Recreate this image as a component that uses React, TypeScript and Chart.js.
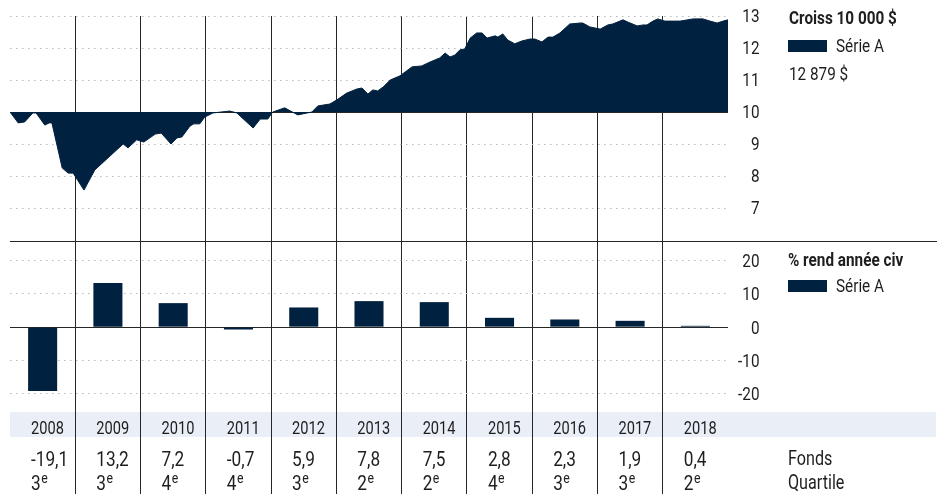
import React, { useEffect, useRef } from 'react';
import { Chart, registerables } from 'chart.js';

Chart.register(...registerables);

const NAVY = '#00213f';
const TEXT = '#1e1e1e';
const FONT = "Roboto, 'Liberation Sans', sans-serif";
const SQUEEZE = 0.85;

// Growth of 10 000 $ (month index since Jan 2008, value in thousands)
const growthMonths = [
  0, 1.5, 2.7, 4.2, 4.8, 6.4, 7.2, 7.7, 9.6, 10.7, 11.6, 13.6, 15.6, 20.8, 21.7, 23.3, 24.6, 26.7,
  27.8, 29.6, 30.7, 31.6, 33.1, 33.8, 34.9, 35.8, 37.3, 40.4, 41.7, 44.7, 46.0, 47.4, 48.3, 50.5,
  52.9, 55.5, 56.6, 58.8, 60.1, 61.9, 63.8, 64.7, 65.8, 66.7, 67.6, 68.6, 69.9, 71.7, 73.9, 75.7,
  77.2, 79.0, 80.0, 80.9, 81.8, 82.7, 83.6, 84.6, 85.8, 86.8, 87.7, 89.2, 89.7, 90.6, 91.5, 92.8,
  94.1, 95.6, 96.5, 97.8, 98.9, 99.8, 101.1, 102.9, 104.8, 105.3, 106.6, 108.5, 109.9, 110.8,
  112.7, 113.6, 115.3, 116.4, 117.1, 118.2, 119.1, 120.4, 123.2, 125.6, 127.4, 128.7, 130.0,
  131.1, 132,
];
const growthValues = [
  10.0, 9.66, 9.69, 9.97, 9.97, 9.59, 9.66, 9.66, 8.25, 8.09, 8.09, 7.56, 8.19, 9.0, 8.88, 9.13,
  9.06, 9.31, 9.34, 9.0, 9.19, 9.22, 9.56, 9.63, 9.63, 9.84, 9.97, 10.03, 9.97, 9.5, 9.78, 9.78,
  10.0, 10.13, 9.91, 10.0, 10.19, 10.25, 10.38, 10.59, 10.72, 10.75, 10.56, 10.69, 10.66, 10.78,
  11.0, 11.13, 11.41, 11.44, 11.56, 11.69, 11.84, 11.72, 11.78, 11.94, 11.97, 12.31, 12.47, 12.47,
  12.31, 12.38, 12.34, 12.44, 12.25, 12.13, 12.22, 12.28, 12.28, 12.19, 12.34, 12.34, 12.47,
  12.75, 12.78, 12.78, 12.66, 12.59, 12.72, 12.75, 12.88, 12.81, 12.69, 12.72, 12.72, 12.84,
  12.91, 12.84, 12.84, 12.91, 12.91, 12.84, 12.78, 12.84, 12.88,
];
const growthTicks = [7, 8, 9, 10, 11, 12, 13];
const growthBase = 10;

const years = ['2008', '2009', '2010', '2011', '2012', '2013', '2014', '2015', '2016', '2017', '2018'];
const annualReturns = [-19.1, 13.2, 7.2, -0.7, 5.9, 7.8, 7.5, 2.8, 2.3, 1.9, 0.4];
const returnTicks = [-20, -10, 0, 10, 20];
const quartiles = [3, 3, 4, 4, 3, 2, 2, 4, 3, 3, 2];

const topTitle = 'Croiss 10 000 $';
const bottomTitle = '% rend année civ';
const seriesName = 'Série A';
const endValueLabel = '12 879 $';
const rowLabels = ['Fonds', 'Quartile'];

const fmt = (v: number) => v.toFixed(1).replace('.', ',');
const TRANSPARENT = 'rgba(0,0,0,0)';
const DOT = '#b8b8b8';
const LINE = '#262626';

function squeezedText(ctx: CanvasRenderingContext2D, text: string, x: number, y: number, sx = SQUEEZE) {
  ctx.save();
  ctx.translate(x, y);
  ctx.scale(sx, 1);
  ctx.fillText(text, 0, 0);
  ctx.restore();
}

const yLabelPlugin = {
  id: 'yLabels',
  afterDraw(chart: any) {
    const ys = chart.scales.y;
    const ctx = chart.ctx as CanvasRenderingContext2D;
    ctx.save();
    ctx.fillStyle = TEXT;
    ctx.font = `18px ${FONT}`;
    ctx.textAlign = 'right';
    ctx.textBaseline = 'alphabetic';
    ys.ticks.forEach((t: any) => {
      squeezedText(ctx, String(t.value), ys.left + 31.5, ys.getPixelForValue(t.value) + 6.4);
    });
    ctx.restore();
  },
};

const tablePlugin = {
  id: 'tablePlugin',
  beforeDraw(chart: any) {
    const { ctx, chartArea } = chart;
    ctx.save();
    ctx.fillStyle = '#e9eef7';
    ctx.fillRect(chartArea.left, chartArea.bottom, chart.width - 10 - chartArea.left, 25);
    ctx.restore();
  },
  afterDraw(chart: any) {
    const { chartArea, scales } = chart;
    const ctx = chart.ctx as CanvasRenderingContext2D;
    const xs = scales.x;
    const half = (xs.getPixelForValue(1) - xs.getPixelForValue(0)) / 2;
    ctx.save();
    ctx.fillStyle = LINE;
    ctx.fillRect(chartArea.left, 1, chart.width - 9 - chartArea.left, 1);
    ctx.fillStyle = TEXT;
    ctx.textBaseline = 'alphabetic';
    ctx.textAlign = 'left';
    years.forEach((y, i) => {
      const left = xs.getPixelForValue(i) - half + 21;
      ctx.font = `19px ${FONT}`;
      squeezedText(ctx, y, left, chartArea.bottom + 21.8, 0.77);
      ctx.font = `21px ${FONT}`;
      squeezedText(ctx, fmt(annualReturns[i]), left, chartArea.bottom + 54, 0.82);
      const q = String(quartiles[i]);
      squeezedText(ctx, q, left, chartArea.bottom + 77.5, 0.82);
      const w = ctx.measureText(q).width * 0.82;
      ctx.font = `15px ${FONT}`;
      squeezedText(ctx, 'e', left + w + 0.5, chartArea.bottom + 70.5, 0.82);
    });
    ctx.restore();
  },
};

function Label(props: { left: number; cy: number; text: string; size?: number; bold?: boolean; sx?: number }) {
  const size = props.size || 18;
  const lh = size + 2;
  const capCenter = (lh - 1.172 * size) / 2 + 0.928 * size - 0.3555 * size;
  return (
    <div
      style={{
        position: 'absolute',
        left: props.left,
        top: Math.round(props.cy - capCenter),
        fontSize: size,
        lineHeight: `${lh}px`,
        fontWeight: props.bold ? 700 : 400,
        whiteSpace: 'nowrap',
        transform: `scaleX(${props.sx || SQUEEZE})`,
        transformOrigin: 'left center',
      }}
    >
      {props.text}
    </div>
  );
}

function Swatch(props: { left: number; top: number }) {
  return (
    <div style={{ position: 'absolute', left: props.left, top: props.top, width: 39, height: 12, background: NAVY }} />
  );
}

export default function App() {
  const topRef = useRef<HTMLCanvasElement>(null);
  const botRef = useRef<HTMLCanvasElement>(null);

  useEffect(() => {
    document.body.style.margin = '0';
    Chart.defaults.font.family = FONT;
    Chart.defaults.font.size = 18;
    Chart.defaults.color = TEXT;

    const top = new Chart(topRef.current as HTMLCanvasElement, {
      type: 'line',
      data: {
        datasets: [
          {
            data: growthMonths.map((m, i) => ({ x: m, y: growthValues[i] })),
            borderColor: NAVY,
            backgroundColor: NAVY,
            borderWidth: 1,
            pointRadius: 0,
            tension: 0,
            fill: { value: growthBase },
          },
        ],
      },
      options: {
        animation: false,
        responsive: false,
        events: [],
        layout: { autoPadding: false, padding: { left: 10, right: 186, top: 16, bottom: 0 } },
        plugins: { legend: { display: false }, tooltip: { enabled: false } },
        scales: {
          x: {
            type: 'linear',
            min: 0,
            max: years.length * 12,
            afterBuildTicks: (s: any) => {
              s.ticks = [...years.map((_, i) => ({ value: i * 12 })), { value: years.length * 12 }];
            },
            ticks: { display: false },
            grid: {
              drawTicks: false,
              color: (c: any) => (c.type !== 'tick' || c.index === 0 || c.index >= years.length ? TRANSPARENT : LINE),
            },
            border: { display: false },
          },
          y: {
            position: 'right',
            min: 6,
            max: 13,
            afterBuildTicks: (s: any) => {
              s.ticks = growthTicks.map((v) => ({ value: v }));
            },
            afterFit: (s: any) => {
              s.width = 32;
            },
            ticks: { display: false },
            grid: {
              drawTicks: false,
              color: (c: any) => (c.tick && c.tick.value === growthBase ? LINE : DOT),
            },
            border: {
              display: false,
              dash: (c: any) => (c.tick && c.tick.value === growthBase ? [] : [1.5, 4.5]),
            },
          },
        },
      } as any,
      plugins: [yLabelPlugin as any],
    });

    const bottom = new Chart(botRef.current as HTMLCanvasElement, {
      type: 'bar',
      data: {
        labels: years,
        datasets: [
          {
            data: annualReturns,
            backgroundColor: NAVY,
            barPercentage: 0.445,
            categoryPercentage: 1,
          },
        ],
      },
      options: {
        animation: false,
        responsive: false,
        events: [],
        layout: { autoPadding: false, padding: { left: 10, right: 186, top: 0, bottom: 0 } },
        plugins: { legend: { display: false }, tooltip: { enabled: false } },
        scales: {
          x: {
            offset: true,
            ticks: { display: false },
            grid: {
              offset: true,
              drawTicks: true,
              tickLength: 82,
              color: (c: any) => (c.type !== 'tick' || c.index === 0 ? TRANSPARENT : LINE),
            },
            border: { display: false },
          },
          y: {
            position: 'right',
            min: -25.4,
            max: 26.1,
            afterBuildTicks: (s: any) => {
              s.ticks = returnTicks.map((v) => ({ value: v }));
            },
            afterFit: (s: any) => {
              s.width = 32;
            },
            ticks: { display: false },
            grid: {
              drawTicks: false,
              color: (c: any) => (c.tick && c.tick.value === 0 ? LINE : DOT),
            },
            border: {
              display: false,
              dash: (c: any) => (c.tick && c.tick.value === 0 ? [] : [1.5, 4.5]),
            },
          },
        },
      } as any,
      plugins: [tablePlugin as any, yLabelPlugin as any],
    });

    return () => {
      top.destroy();
      bottom.destroy();
    };
  }, []);

  return (
    <div style={{ position: 'relative', width: 946, height: 494, overflow: 'hidden', fontFamily: FONT, color: TEXT }}>
      <canvas ref={topRef} width={946} height={240} style={{ position: 'absolute', left: 0, top: 0 }} />
      <canvas ref={botRef} width={946} height={254} style={{ position: 'absolute', left: 0, top: 240 }} />
      <Label left={789} cy={18} text={topTitle} bold />
      <Swatch left={788} top={40} />
      <Label left={836} cy={46} text={seriesName} />
      <Label left={789} cy={74} text={endValueLabel} />
      <Label left={788} cy={260} text={bottomTitle} bold />
      <Swatch left={788} top={280} />
      <Label left={836} cy={286} text={seriesName} />
      <Label left={788} cy={458} text={rowLabels[0]} size={21} sx={0.77} />
      <Label left={788} cy={482} text={rowLabels[1]} size={21} sx={0.77} />
    </div>
  );
}
